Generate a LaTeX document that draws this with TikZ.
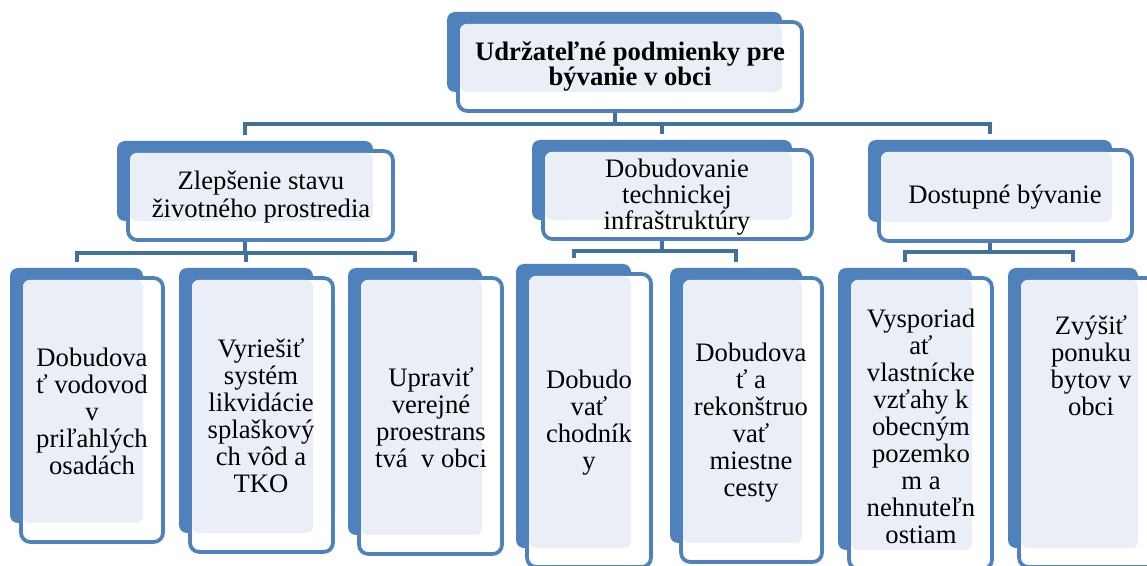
\documentclass[tikz,border=0pt]{standalone}
\usepackage{fontspec}
\setmainfont{Liberation Serif}
\definecolor{boxblue}{HTML}{4F81BD}
\definecolor{connblue}{HTML}{41719C}
\definecolor{lightfill}{HTML}{EAEFF7}
\pgfdeclarelayer{background}
\pgfsetlayers{background,main}
\tikzset{
  backbox/.style={fill=boxblue, rounded corners=6pt, inner sep=0pt, draw=none},
  frontbox/.style={draw=boxblue, line width=2.8pt, fill=white, rounded corners=7pt},
  lightbox/.style={fill=lightfill, rounded corners=5pt},
  conn/.style={draw=connblue, line width=3pt, shorten >=4.5pt},
  txt/.style={align=center, font=\fontsize{20}{20.25}\selectfont, inner sep=0pt},
}
\newcommand\smbox[5]{%
  \node[backbox, minimum width={(#4-#2)*0.75pt}, minimum height={(#5-#3)*0.75pt}] (#1) at ({(#2+#4)/2},{(#3+#5)/2}) {};
  \draw[frontbox] ({#2+11},{#3+10}) rectangle ({#4+20},{#5+19});
  \fill[lightbox] ({#2+13},{#3+12}) rectangle (#4,#5);
}
\begin{document}
\begin{tikzpicture}[x=0.75pt,y=-0.75pt]
\useasboundingbox (0,0) rectangle (1147,566);
\clip (0,0) rectangle (1147,566);
% level 0
\smbox{top}{447}{12}{782}{92}
% level 1
\smbox{A}{117}{141}{373}{221}
\smbox{B}{532}{140}{792}{220}
\smbox{C}{868}{140}{1112}{222}
% level 2
\smbox{A1}{10}{268}{143}{523}
\smbox{A2}{179}{268}{313}{533}
\smbox{A3}{348}{268}{482}{535}
\smbox{B1}{516}{264}{631}{548}
\smbox{B2}{670}{268}{802}{543}
\smbox{C1}{838}{268}{972}{550}
\smbox{C2}{1008}{268}{1138}{548}
% texts
\node[txt, font=\bfseries\fontsize{20}{18.75}\selectfont] (top-t) at (630,66) {Udržateľné podmienky pre\\bývanie v obci};
\node[txt, font=\fontsize{20}{21}\selectfont] (A-t) at (261,197) {Zlepšenie stavu\\životného prostredia};
\node[txt, font=\fontsize{20}{19.5}\selectfont] (B-t) at (677,197) {Dobudovanie\\technickej\\infraštruktúry};
\node[txt] (C-t) at (1005,197) {Dostupné bývanie};
\node[txt] (A1-t) at (92,411) {Dobudova\\ť vodovod\\v\\priľahlých\\osadách};
\node[txt] (A2-t) at (261,416) {Vyriešiť\\systém\\likvidácie\\splaškový\\ch vôd a\\TKO};
\node[txt] (A3-t) at (431,418) {Upraviť\\verejné\\proestrans\\tvá~~v obci};
\node[txt] (B1-t) at (589,423) {Dobudo\\vať\\chodník\\y};
\node[txt] (B2-t) at (751,423) {Dobudova\\ť a\\rekonštruo\\vať\\miestne\\cesty};
\node[txt] (C1-t) at (921,426) {Vysporiad\\ať\\vlastnícke\\vzťahy k\\obecným\\pozemko\\m a\\nehnuteľn\\ostiam};
\node[txt] (C2-t) at (1091,366) {Zvýšiť\\ponuku\\bytov v\\obci};
% connectors
\coordinate (bus0) at (0,124.5);
\coordinate (busA) at (0,253);
\coordinate (busB) at (0,251);
\coordinate (busC) at (0,252);
\begin{pgfonlayer}{background}
\draw[conn] (top.south) -- (top.south |- bus0) -| (A.north);
\draw[conn] (top.south) -- (top.south |- bus0) -| (B.north);
\draw[conn] (top.south) -- (top.south |- bus0) -| (C.north);
\draw[conn] (A.south) -- (A.south |- busA) -| (A1.north);
\draw[conn] (A.south) -- (A.south |- busA) -| (A2.north);
\draw[conn] (A.south) -- (A.south |- busA) -| (A3.north);
\draw[conn] (B.south) -- (B.south |- busB) -| (B1.north);
\draw[conn] (B.south) -- (B.south |- busB) -| (B2.north);
\draw[conn] (C.south) -- (C.south |- busC) -| (C1.north);
\draw[conn] (C.south) -- (C.south |- busC) -| (C2.north);
\end{pgfonlayer}
\end{tikzpicture}
\end{document}
